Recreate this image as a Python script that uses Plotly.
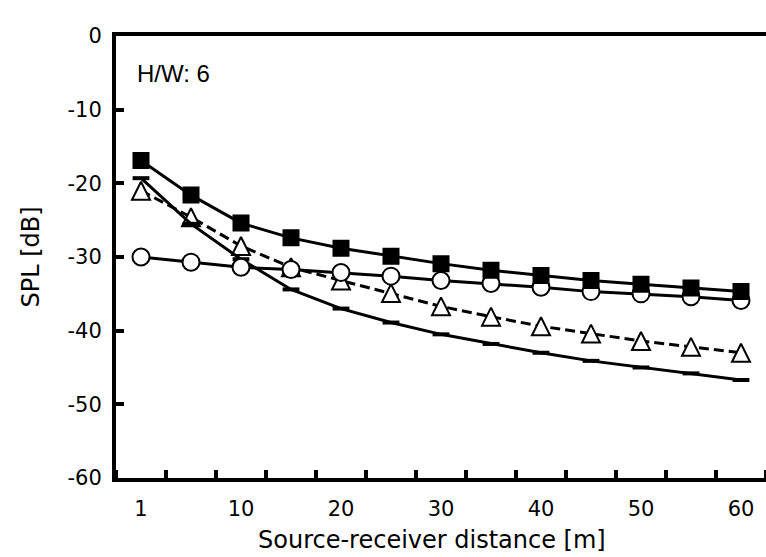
import plotly.graph_objects as go

categories = ["1", "5", "10", "15", "20", "25", "30", "35", "40", "45", "50", "55", "60"]
x_tick_labels = ["1", "10", "20", "30", "40", "50", "60"]
y_tick_values = [0, -10, -20, -30, -40, -50, -60]
y_tick_labels = ["0", "-10", "-20", "-30", "-40", "-50", "-60"]

squares = [-16.9, -21.6, -25.4, -27.4, -28.8, -29.9, -30.9, -31.8, -32.5, -33.2, -33.7, -34.2, -34.7]
circles = [-30.0, -30.7, -31.4, -31.7, -32.1, -32.6, -33.2, -33.6, -34.1, -34.7, -35.0, -35.4, -35.9]
triangles = [-21.0, -24.6, -28.5, -31.4, -33.2, -34.9, -36.7, -38.1, -39.4, -40.4, -41.4, -42.2, -43.0]
dashes = [-19.3, -25.5, -30.3, -34.4, -37.0, -38.9, -40.5, -41.8, -43.0, -44.1, -45.0, -45.8, -46.7]

x = list(range(len(categories)))
tickvals = [categories.index(t) for t in x_tick_labels]

Y_MIN, Y_MAX = -60, 0
M_T, M_B = 36, 79
PLOT_H = 557 - M_T - M_B
TRI_SIZE = 18
tri_shift = (TRI_SIZE / 2) * (Y_MAX - Y_MIN) / PLOT_H

TICK_FONT = dict(family="DejaVu Sans", size=21, color="black")
TITLE_FONT = dict(family="DejaVu Sans", size=24, color="black")
LW = 3

fig = go.Figure()

fig.add_trace(go.Scatter(x=x, y=triangles, mode="lines",
                         line=dict(color="black", width=LW, dash="10px,5px"),
                         showlegend=False, yaxis="y"))
fig.add_trace(go.Scatter(x=x, y=triangles, mode="markers",
                         marker=dict(symbol="arrow-up", size=TRI_SIZE, color="white",
                                     line=dict(color="black", width=2)),
                         showlegend=False, yaxis="y2"))
fig.add_trace(go.Scatter(x=x, y=dashes, mode="lines+markers",
                         line=dict(color="black", width=LW),
                         marker=dict(symbol="line-ew", size=12,
                                     line=dict(color="black", width=4)),
                         showlegend=False, yaxis="y3"))
fig.add_trace(go.Scatter(x=x, y=circles, mode="lines+markers",
                         line=dict(color="black", width=LW),
                         marker=dict(symbol="circle", size=17, color="white",
                                     line=dict(color="black", width=2)),
                         showlegend=False, yaxis="y3"))
fig.add_trace(go.Scatter(x=x, y=squares, mode="lines+markers",
                         line=dict(color="black", width=LW),
                         marker=dict(symbol="square", size=15, color="black",
                                     line=dict(color="black", width=2)),
                         showlegend=False, yaxis="y3"))

fig.update_layout(
    width=766, height=557,
    margin=dict(l=116, r=0, t=M_T, b=M_B),
    paper_bgcolor="white", plot_bgcolor="white",
    font=TICK_FONT,
    xaxis=dict(
        range=[-0.5, len(categories) - 0.5],
        tickmode="array", tickvals=tickvals, ticktext=x_tick_labels,
        ticks="", showgrid=False, zeroline=False,
        showline=True, linecolor="black", linewidth=4, mirror=True,
        tickfont=TICK_FONT, ticklabelstandoff=9,
        minor=dict(tick0=0.5, dtick=1, ticks="inside", ticklen=8,
                   tickwidth=3.5, tickcolor="black", showgrid=False),
    ),
    yaxis=dict(
        range=[Y_MIN, Y_MAX], tickmode="array", tickvals=y_tick_values, ticktext=y_tick_labels,
        ticks="inside", ticklen=8, tickwidth=3.5, tickcolor="black",
        showgrid=False, zeroline=False,
        showline=True, linecolor="black", linewidth=4,
        tickfont=TICK_FONT, ticklabelstandoff=6,
        title=dict(text="SPL [dB]", font=TITLE_FONT, standoff=22),
    ),
    yaxis2=dict(range=[Y_MIN - tri_shift, Y_MAX - tri_shift], overlaying="y",
                visible=False, showgrid=False, zeroline=False),
    yaxis3=dict(range=[Y_MIN, Y_MAX], overlaying="y",
                visible=False, showgrid=False, zeroline=False),
    annotations=[
        dict(text="H/W: 6", xref="paper", yref="paper", x=0.029, y=0.915,
             xanchor="left", yanchor="middle", showarrow=False,
             font=dict(family="Liberation Sans", size=24, color="black")),
        dict(text="Source-receiver distance [m]", xref="paper", yref="paper",
             x=0.486, y=0, yshift=-62, xanchor="center", yanchor="middle",
             showarrow=False, font=TITLE_FONT),
    ],
)

fig.write_html("out.html")
